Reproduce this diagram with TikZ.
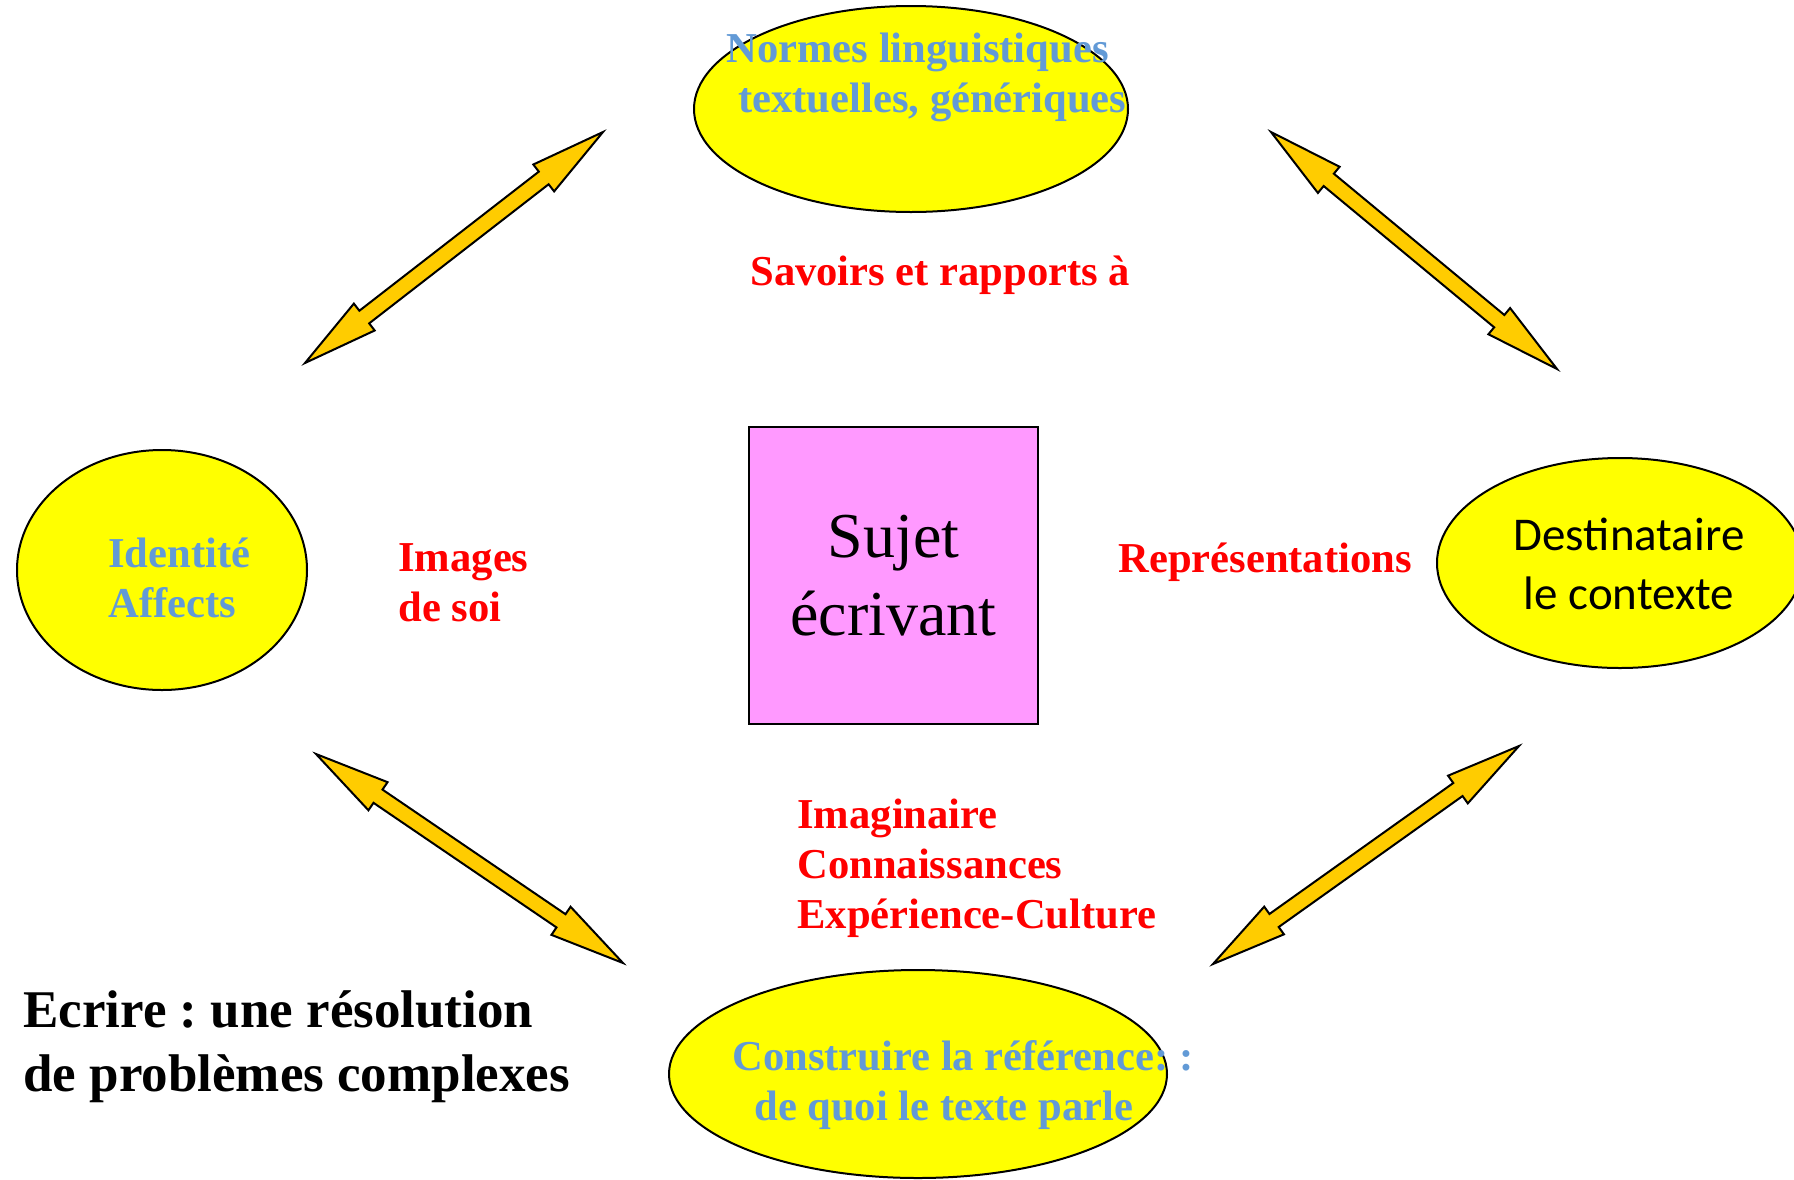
\documentclass[tikz,border=0pt]{standalone}
\usepackage{fontspec}
\setmainfont{Liberation Serif}
\newfontfamily\calibri{Carlito}
\usepackage{tikz}
\usetikzlibrary{shapes.geometric,calc}
\frenchspacing

\definecolor{blobyellow}{RGB}{255,255,0}
\definecolor{boltyellow}{RGB}{255,204,0}
\definecolor{sky}{RGB}{98,154,214}
\definecolor{rose}{RGB}{255,153,255}

\tikzset{
	yellowblob/.style={ellipse,draw=black,line width=1pt,fill=blobyellow,inner sep=0pt},
	boltarrow/.style={draw=black,line width=1pt,fill=boltyellow},
	bluelabel/.style={text=sky,font=\bfseries\fontsize{21.3}{25}\selectfont,align=left,anchor=west,inner sep=0pt},
	redlabel/.style={text=red,font=\bfseries\fontsize{21.3}{25}\selectfont,align=left,anchor=west,inner sep=0pt},
}

% double headed block arrow between two named coordinates
\newcommand\bothway[2]{%
	\coordinate (h1) at ($(#1)!37.5pt!(#2)$);
	\coordinate (h2) at ($(#2)!37.5pt!(#1)$);
	\draw[boltarrow] (#1)
		-- ($(h1)!8.5pt!90:(#2)$) -- ($(h1)!4pt!90:(#2)$)
		-- ($(h2)!4pt!-90:(#1)$) -- ($(h2)!8.5pt!-90:(#1)$)
		-- (#2)
		-- ($(h2)!8.5pt!90:(#1)$) -- ($(h2)!4pt!90:(#1)$)
		-- ($(h1)!4pt!-90:(#2)$) -- ($(h1)!8.5pt!-90:(#2)$)
		-- cycle;}

\begin{document}
\begin{tikzpicture}[x=0.5pt,y=-0.5pt]

	\useasboundingbox (0,0) rectangle (1794,1179);

	\node[yellowblob,minimum width=217pt,minimum height=103pt] (normes) at (911,109) {};
	\node[yellowblob,minimum width=145pt,minimum height=120pt] (identite) at (162,570) {};
	\node[yellowblob,minimum width=183pt,minimum height=105pt] (destin) at (1620,563) {};
	\node[yellowblob,minimum width=249pt,minimum height=104pt] (reference) at (918,1074) {};
	\node[draw=black,line width=1pt,fill=rose,minimum width=144.5pt,minimum height=148.5pt,
		inner sep=0pt,align=center,font=\fontsize{32}{39}\selectfont] (sujet) at (893.5,575.5) {Sujet\\écrivant};

	\node[bluelabel] (normtxt) at (726,77) {Normes linguistiques\\\hspace*{6pt}textuelles, génériques};
	\node[bluelabel] (idtxt) at (108,578) {Identité\\Affects};
	\node[bluelabel] (reftxt) at (732,1085) {Construire la référence: :\\\hspace*{11pt}de quoi le texte parle};
	\node[font=\calibri\fontsize{23.5}{29.5}\selectfont,align=center,inner sep=0pt] (desttxt) at (1629,564) {Destinataire\\le contexte};

	\node[redlabel] (savtxt) at (750,275) {Savoirs et rapports à};
	\node[redlabel] (imgtxt) at (398,583) {Images\\de soi};
	\node[redlabel] (reptxt) at (1118,562) {Représentations};
	\node[redlabel] (imagtxt) at (797,868) {Imaginaire\\Connaissances\\Expérience-Culture};

	\node[font=\bfseries\fontsize{26.5}{32}\selectfont,align=left,anchor=west,inner sep=0pt] (ecrire) at (23,1047)
		{Ecrire : une résolution\\de problèmes complexes};

	\coordinate (idup) at (305,363);
	\coordinate (normsw) at (603,132);
	\coordinate (normse) at (1271,132);
	\coordinate (destup) at (1557,369);
	\coordinate (iddown) at (316,754);
	\coordinate (refnw) at (623,963);
	\coordinate (refne) at (1213,964);
	\coordinate (destdown) at (1519,746);

	\bothway{idup}{normsw}
	\bothway{normse}{destup}
	\bothway{iddown}{refnw}
	\bothway{refne}{destdown}

\end{tikzpicture}
\end{document}
